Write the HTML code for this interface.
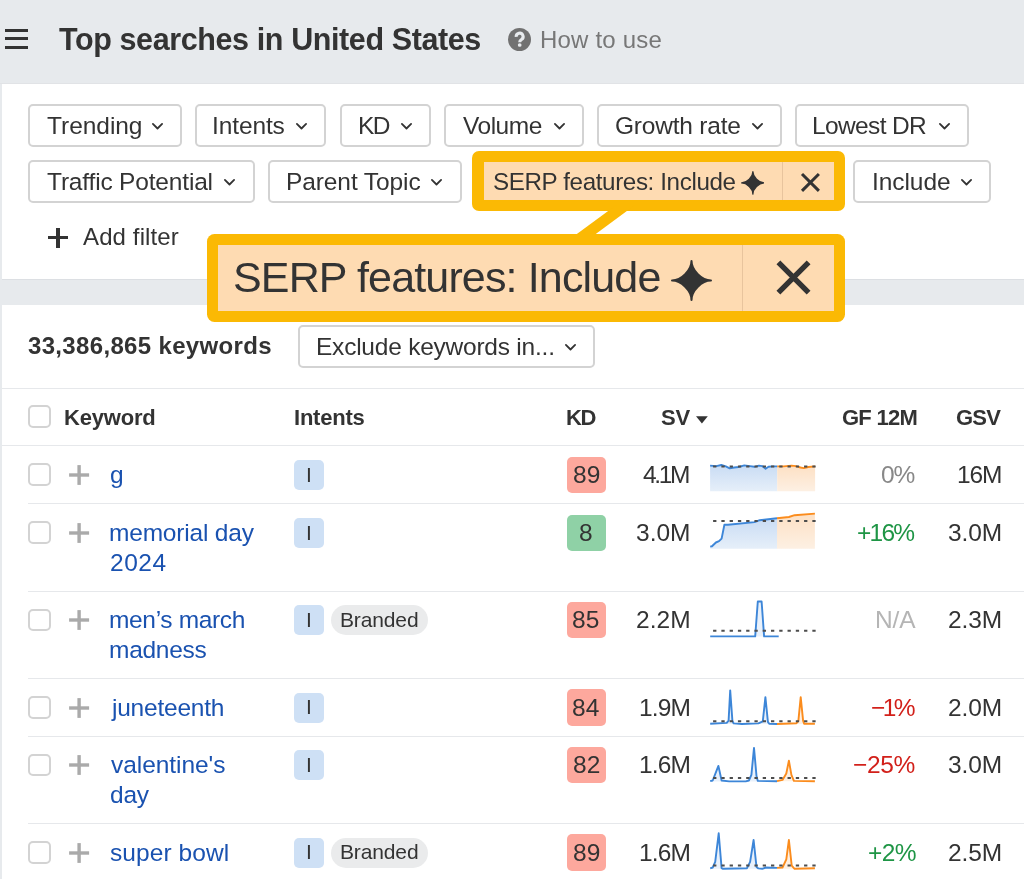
<!DOCTYPE html>
<html><head><meta charset="utf-8"><style>
html,body{margin:0;padding:0;}
body{width:1024px;height:879px;overflow:hidden;position:relative;background:#e7eaed;font-family:"Liberation Sans", sans-serif;}
.t{position:absolute;white-space:nowrap;line-height:1;font-family:"Liberation Sans", sans-serif;will-change:transform;}
.b{position:absolute;}
</style></head><body>
<div class="b" style="left:5.00px;top:29.00px;width:23.00px;height:2.70px;background:#333"></div>
<div class="b" style="left:5.00px;top:37.20px;width:23.00px;height:2.70px;background:#333"></div>
<div class="b" style="left:5.00px;top:45.90px;width:23.00px;height:2.70px;background:#333"></div>
<div class="t" style="left:59.00px;top:24.20px;font-size:30.5px;font-weight:700;color:#333;letter-spacing:-0.393px;">Top searches in United States</div>
<svg class="b" style="left:506px;top:26px" width="27" height="27" viewBox="-13.5 -13.5 27 27"><circle cx="0" cy="0" r="11.5" fill="#717171"/><path d="M-3.3 -2.7 A3.45 3.45 0 1 1 2.0 0.0 Q0.2 1.1 0.2 2.8" stroke="#e7eaed" stroke-width="3.1" fill="none"/><circle cx="0.2" cy="5.5" r="1.85" fill="#e7eaed"/></svg>
<div class="t" style="left:539.60px;top:27.80px;font-size:24px;font-weight:400;color:#777;letter-spacing:0.189px;">How to use</div>
<div class="b" style="left:0.00px;top:83.00px;width:1024.00px;height:1.00px;background:#e1e3e6"></div>
<div class="b" style="left:2.00px;top:84.00px;width:1022.00px;height:195.00px;background:#fff"></div>
<div class="b" style="left:2.00px;top:278.50px;width:1022.00px;height:1.00px;background:#dcdfe3"></div>
<div class="b" style="left:28.00px;top:103.80px;width:153.90px;height:43.00px;border:2px solid #d3d3d3;border-radius:5px;background:#fff;box-sizing:border-box"></div>
<div class="t" style="left:46.70px;top:113.60px;font-size:24.5px;font-weight:400;color:#333;letter-spacing:-0.043px;">Trending</div>
<svg class="b" style="left:151.20px;top:121.60px" width="13" height="8.4" viewBox="-1 -1 13 8.4"><path d="M0.9 0.9 L5.5 5.5 L10.1 0.9" fill="none" stroke="#333" stroke-width="1.8" stroke-linecap="round" stroke-linejoin="round"/></svg>
<div class="b" style="left:195.40px;top:103.80px;width:131.10px;height:43.00px;border:2px solid #d3d3d3;border-radius:5px;background:#fff;box-sizing:border-box"></div>
<div class="t" style="left:212.40px;top:113.60px;font-size:24.5px;font-weight:400;color:#333;letter-spacing:-0.117px;">Intents</div>
<svg class="b" style="left:295.20px;top:121.60px" width="13" height="8.4" viewBox="-1 -1 13 8.4"><path d="M0.9 0.9 L5.5 5.5 L10.1 0.9" fill="none" stroke="#333" stroke-width="1.8" stroke-linecap="round" stroke-linejoin="round"/></svg>
<div class="b" style="left:339.80px;top:103.80px;width:91.30px;height:43.00px;border:2px solid #d3d3d3;border-radius:5px;background:#fff;box-sizing:border-box"></div>
<div class="t" style="left:357.90px;top:113.60px;font-size:24.5px;font-weight:400;color:#333;letter-spacing:-1.700px;">KD</div>
<svg class="b" style="left:400.10px;top:121.60px" width="13" height="8.4" viewBox="-1 -1 13 8.4"><path d="M0.9 0.9 L5.5 5.5 L10.1 0.9" fill="none" stroke="#333" stroke-width="1.8" stroke-linecap="round" stroke-linejoin="round"/></svg>
<div class="b" style="left:444.40px;top:103.80px;width:139.35px;height:43.00px;border:2px solid #d3d3d3;border-radius:5px;background:#fff;box-sizing:border-box"></div>
<div class="t" style="left:463.20px;top:113.60px;font-size:24.5px;font-weight:400;color:#333;letter-spacing:-0.480px;">Volume</div>
<svg class="b" style="left:552.70px;top:121.60px" width="13" height="8.4" viewBox="-1 -1 13 8.4"><path d="M0.9 0.9 L5.5 5.5 L10.1 0.9" fill="none" stroke="#333" stroke-width="1.8" stroke-linecap="round" stroke-linejoin="round"/></svg>
<div class="b" style="left:596.95px;top:103.80px;width:184.65px;height:43.00px;border:2px solid #d3d3d3;border-radius:5px;background:#fff;box-sizing:border-box"></div>
<div class="t" style="left:615.00px;top:113.60px;font-size:24.5px;font-weight:400;color:#333;letter-spacing:-0.200px;">Growth rate</div>
<svg class="b" style="left:750.50px;top:121.60px" width="13" height="8.4" viewBox="-1 -1 13 8.4"><path d="M0.9 0.9 L5.5 5.5 L10.1 0.9" fill="none" stroke="#333" stroke-width="1.8" stroke-linecap="round" stroke-linejoin="round"/></svg>
<div class="b" style="left:795.00px;top:103.80px;width:173.80px;height:43.00px;border:2px solid #d3d3d3;border-radius:5px;background:#fff;box-sizing:border-box"></div>
<div class="t" style="left:812.40px;top:113.60px;font-size:24.5px;font-weight:400;color:#333;letter-spacing:-0.638px;">Lowest DR</div>
<svg class="b" style="left:937.80px;top:121.60px" width="13" height="8.4" viewBox="-1 -1 13 8.4"><path d="M0.9 0.9 L5.5 5.5 L10.1 0.9" fill="none" stroke="#333" stroke-width="1.8" stroke-linecap="round" stroke-linejoin="round"/></svg>
<div class="b" style="left:28.00px;top:159.80px;width:226.80px;height:43.10px;border:2px solid #d3d3d3;border-radius:5px;background:#fff;box-sizing:border-box"></div>
<div class="t" style="left:47.30px;top:169.60px;font-size:24.5px;font-weight:400;color:#333;letter-spacing:-0.175px;">Traffic Potential</div>
<svg class="b" style="left:223.30px;top:177.65px" width="13" height="8.4" viewBox="-1 -1 13 8.4"><path d="M0.9 0.9 L5.5 5.5 L10.1 0.9" fill="none" stroke="#333" stroke-width="1.8" stroke-linecap="round" stroke-linejoin="round"/></svg>
<div class="b" style="left:267.90px;top:159.80px;width:193.70px;height:43.10px;border:2px solid #d3d3d3;border-radius:5px;background:#fff;box-sizing:border-box"></div>
<div class="t" style="left:285.60px;top:169.60px;font-size:24.5px;font-weight:400;color:#333;letter-spacing:-0.100px;">Parent Topic</div>
<svg class="b" style="left:430.30px;top:177.65px" width="13" height="8.4" viewBox="-1 -1 13 8.4"><path d="M0.9 0.9 L5.5 5.5 L10.1 0.9" fill="none" stroke="#333" stroke-width="1.8" stroke-linecap="round" stroke-linejoin="round"/></svg>
<div class="b" style="left:853.40px;top:159.80px;width:137.70px;height:43.10px;border:2px solid #d3d3d3;border-radius:5px;background:#fff;box-sizing:border-box"></div>
<div class="t" style="left:871.50px;top:169.60px;font-size:24.5px;font-weight:400;color:#333;letter-spacing:-0.067px;">Include</div>
<svg class="b" style="left:960.10px;top:177.65px" width="13" height="8.4" viewBox="-1 -1 13 8.4"><path d="M0.9 0.9 L5.5 5.5 L10.1 0.9" fill="none" stroke="#333" stroke-width="1.8" stroke-linecap="round" stroke-linejoin="round"/></svg>
<div class="b" style="left:47.80px;top:235.60px;width:20.00px;height:3.60px;background:#333"></div>
<div class="b" style="left:56.00px;top:227.50px;width:3.60px;height:20.00px;background:#333"></div>
<div class="t" style="left:83.40px;top:225.20px;font-size:24px;font-weight:400;color:#333;letter-spacing:0.122px;">Add filter</div>
<div class="b" style="left:2.00px;top:305.00px;width:1022.00px;height:574.00px;background:#fff"></div>
<div class="t" style="left:28.00px;top:334.20px;font-size:24px;font-weight:700;color:#333;letter-spacing:0.333px;">33,386,865 keywords</div>
<div class="b" style="left:297.80px;top:324.90px;width:297.20px;height:42.90px;border:2px solid #d3d3d3;border-radius:5px;background:#fff;box-sizing:border-box"></div>
<div class="t" style="left:316.20px;top:334.60px;font-size:24.5px;font-weight:400;color:#333;letter-spacing:-0.229px;">Exclude keywords in...</div>
<svg class="b" style="left:564.00px;top:342.60px" width="13" height="8.4" viewBox="-1 -1 13 8.4"><path d="M0.9 0.9 L5.5 5.5 L10.1 0.9" fill="none" stroke="#333" stroke-width="1.8" stroke-linecap="round" stroke-linejoin="round"/></svg>
<div class="b" style="left:2.00px;top:387.60px;width:1022.00px;height:1.20px;background:#e6e8eb"></div>
<div class="b" style="left:2.00px;top:445.30px;width:1022.00px;height:1.20px;background:#e6e8eb"></div>
<div class="b" style="left:28.20px;top:405.10px;width:22.90px;height:22.70px;border:2px solid #d3d3d3;border-radius:5px;box-sizing:border-box;background:#fff"></div>
<div class="t" style="left:63.80px;top:406.70px;font-size:22px;font-weight:700;color:#333;letter-spacing:-0.183px;">Keyword</div>
<div class="t" style="left:294.00px;top:406.70px;font-size:22px;font-weight:700;color:#333;letter-spacing:-0.217px;">Intents</div>
<div class="t" style="left:565.90px;top:406.70px;font-size:22px;font-weight:700;color:#333;letter-spacing:-1.300px;">KD</div>
<div class="t" style="left:660.60px;top:406.70px;font-size:22px;font-weight:700;color:#333;letter-spacing:-0.200px;">SV</div>
<svg class="b" style="left:695.5px;top:415.5px" width="12" height="8" viewBox="0 0 12 8"><path d="M0 0.3 L11.8 0.3 L5.9 7.6 Z" fill="#333"/></svg>
<div class="t" style="left:841.90px;top:406.70px;font-size:22px;font-weight:700;color:#333;letter-spacing:-0.740px;">GF 12M</div>
<div class="t" style="left:956.00px;top:406.70px;font-size:22px;font-weight:700;color:#333;letter-spacing:-0.750px;">GSV</div>
<div class="b" style="left:28.20px;top:463.30px;width:22.90px;height:22.70px;border:2px solid #d3d3d3;border-radius:5px;box-sizing:border-box;background:#fff"></div>
<svg class="b" style="left:66px;top:461.90px" width="26" height="26" viewBox="66 461.90 26 26"><rect x="69.1" y="473.20" width="20" height="3.4" fill="#aaa"/><rect x="77.4" y="465.00" width="3.4" height="19.8" fill="#aaa"/></svg>
<div class="t" style="left:110.40px;top:463.10px;font-size:24.5px;font-weight:400;color:#1a52b0;letter-spacing:0.000px;">g</div>
<div class="b" style="left:294.30px;top:460.00px;width:29.80px;height:30.00px;background:#cee0f5;border-radius:5px"></div>
<div class="t" style="left:306.10px;top:463.60px;font-size:21px;font-weight:400;color:#333;letter-spacing:0.000px;">I</div>
<div class="b" style="left:566.50px;top:456.70px;width:39.50px;height:36.20px;background:#fda89d;border-radius:5px"></div>
<div class="t" style="left:572.70px;top:463.10px;font-size:24.5px;font-weight:400;color:#333;letter-spacing:0.000px;">89</div>
<div class="t" style="left:643.40px;top:463.10px;font-size:24.5px;font-weight:400;color:#333;letter-spacing:-2.367px;">4.1M</div>
<div class="t" style="left:880.50px;top:463.10px;font-size:24.5px;font-weight:400;color:#888;letter-spacing:-1.200px;">0%</div>
<div class="t" style="left:956.50px;top:463.10px;font-size:24.5px;font-weight:400;color:#333;letter-spacing:-1.150px;">16M</div>
<div class="b" style="left:28.00px;top:503.20px;width:996.00px;height:1.20px;background:#e6e8eb"></div>
<div class="b" style="left:28.20px;top:521.20px;width:22.90px;height:22.70px;border:2px solid #d3d3d3;border-radius:5px;box-sizing:border-box;background:#fff"></div>
<svg class="b" style="left:66px;top:519.80px" width="26" height="26" viewBox="66 519.80 26 26"><rect x="69.1" y="531.10" width="20" height="3.4" fill="#aaa"/><rect x="77.4" y="522.90" width="3.4" height="19.8" fill="#aaa"/></svg>
<div class="t" style="left:109.40px;top:521.00px;font-size:24.5px;font-weight:400;color:#1a52b0;letter-spacing:-0.191px;">memorial day</div>
<div class="t" style="left:110.40px;top:550.70px;font-size:24.5px;font-weight:400;color:#1a52b0;letter-spacing:0.500px;">2024</div>
<div class="b" style="left:294.30px;top:517.90px;width:29.80px;height:30.00px;background:#cee0f5;border-radius:5px"></div>
<div class="t" style="left:306.10px;top:521.50px;font-size:21px;font-weight:400;color:#333;letter-spacing:0.000px;">I</div>
<div class="b" style="left:566.50px;top:514.60px;width:39.50px;height:36.20px;background:#8fd1a6;border-radius:5px"></div>
<div class="t" style="left:579.20px;top:521.00px;font-size:24.5px;font-weight:400;color:#333;letter-spacing:0.000px;">8</div>
<div class="t" style="left:636.30px;top:521.00px;font-size:24.5px;font-weight:400;color:#333;letter-spacing:0.000px;">3.0M</div>
<div class="t" style="left:857.20px;top:521.00px;font-size:24.5px;font-weight:400;color:#1e9545;letter-spacing:-1.767px;">+16%</div>
<div class="t" style="left:947.50px;top:521.00px;font-size:24.5px;font-weight:400;color:#333;letter-spacing:-0.100px;">3.0M</div>
<div class="b" style="left:28.00px;top:590.60px;width:996.00px;height:1.20px;background:#e6e8eb"></div>
<div class="b" style="left:28.20px;top:608.60px;width:22.90px;height:22.70px;border:2px solid #d3d3d3;border-radius:5px;box-sizing:border-box;background:#fff"></div>
<svg class="b" style="left:66px;top:607.20px" width="26" height="26" viewBox="66 607.20 26 26"><rect x="69.1" y="618.50" width="20" height="3.4" fill="#aaa"/><rect x="77.4" y="610.30" width="3.4" height="19.8" fill="#aaa"/></svg>
<div class="t" style="left:109.40px;top:608.40px;font-size:24.5px;font-weight:400;color:#1a52b0;letter-spacing:-0.340px;">men’s march</div>
<div class="t" style="left:109.40px;top:638.10px;font-size:24.5px;font-weight:400;color:#1a52b0;letter-spacing:-0.283px;">madness</div>
<div class="b" style="left:294.30px;top:605.30px;width:29.80px;height:30.00px;background:#cee0f5;border-radius:5px"></div>
<div class="t" style="left:306.10px;top:608.90px;font-size:21px;font-weight:400;color:#333;letter-spacing:0.000px;">I</div>
<div class="b" style="left:330.60px;top:605.30px;width:97.40px;height:30.00px;background:#eaebec;border-radius:15px"></div>
<div class="t" style="left:339.80px;top:608.70px;font-size:21px;font-weight:400;color:#333;letter-spacing:-0.133px;">Branded</div>
<div class="b" style="left:566.50px;top:602.00px;width:39.50px;height:36.20px;background:#fda89d;border-radius:5px"></div>
<div class="t" style="left:572.20px;top:608.40px;font-size:24.5px;font-weight:400;color:#333;letter-spacing:0.000px;">85</div>
<div class="t" style="left:636.10px;top:608.40px;font-size:24.5px;font-weight:400;color:#333;letter-spacing:0.067px;">2.2M</div>
<div class="t" style="left:875.40px;top:608.40px;font-size:24.5px;font-weight:400;color:#b5b5b5;letter-spacing:-0.150px;">N/A</div>
<div class="t" style="left:947.50px;top:608.40px;font-size:24.5px;font-weight:400;color:#333;letter-spacing:-0.100px;">2.3M</div>
<div class="b" style="left:28.00px;top:678.00px;width:996.00px;height:1.20px;background:#e6e8eb"></div>
<div class="b" style="left:28.20px;top:696.00px;width:22.90px;height:22.70px;border:2px solid #d3d3d3;border-radius:5px;box-sizing:border-box;background:#fff"></div>
<svg class="b" style="left:66px;top:694.60px" width="26" height="26" viewBox="66 694.60 26 26"><rect x="69.1" y="705.90" width="20" height="3.4" fill="#aaa"/><rect x="77.4" y="697.70" width="3.4" height="19.8" fill="#aaa"/></svg>
<div class="t" style="left:111.50px;top:695.80px;font-size:24.5px;font-weight:400;color:#1a52b0;letter-spacing:-0.222px;">juneteenth</div>
<div class="b" style="left:294.30px;top:692.70px;width:29.80px;height:30.00px;background:#cee0f5;border-radius:5px"></div>
<div class="t" style="left:306.10px;top:696.30px;font-size:21px;font-weight:400;color:#333;letter-spacing:0.000px;">I</div>
<div class="b" style="left:566.50px;top:689.40px;width:39.50px;height:36.20px;background:#fda89d;border-radius:5px"></div>
<div class="t" style="left:572.20px;top:695.80px;font-size:24.5px;font-weight:400;color:#333;letter-spacing:0.000px;">84</div>
<div class="t" style="left:638.90px;top:695.80px;font-size:24.5px;font-weight:400;color:#333;letter-spacing:-0.867px;">1.9M</div>
<div class="t" style="left:871.30px;top:695.80px;font-size:24.5px;font-weight:400;color:#d2201a;letter-spacing:-2.550px;">−1%</div>
<div class="t" style="left:947.50px;top:695.80px;font-size:24.5px;font-weight:400;color:#333;letter-spacing:-0.100px;">2.0M</div>
<div class="b" style="left:28.00px;top:735.50px;width:996.00px;height:1.20px;background:#e6e8eb"></div>
<div class="b" style="left:28.20px;top:753.50px;width:22.90px;height:22.70px;border:2px solid #d3d3d3;border-radius:5px;box-sizing:border-box;background:#fff"></div>
<svg class="b" style="left:66px;top:752.10px" width="26" height="26" viewBox="66 752.10 26 26"><rect x="69.1" y="763.40" width="20" height="3.4" fill="#aaa"/><rect x="77.4" y="755.20" width="3.4" height="19.8" fill="#aaa"/></svg>
<div class="t" style="left:111.40px;top:753.30px;font-size:24.5px;font-weight:400;color:#1a52b0;letter-spacing:-0.060px;">valentine's</div>
<div class="t" style="left:110.40px;top:783.00px;font-size:24.5px;font-weight:400;color:#1a52b0;letter-spacing:-0.250px;">day</div>
<div class="b" style="left:294.30px;top:750.20px;width:29.80px;height:30.00px;background:#cee0f5;border-radius:5px"></div>
<div class="t" style="left:306.10px;top:753.80px;font-size:21px;font-weight:400;color:#333;letter-spacing:0.000px;">I</div>
<div class="b" style="left:566.50px;top:746.90px;width:39.50px;height:36.20px;background:#fda89d;border-radius:5px"></div>
<div class="t" style="left:572.70px;top:753.30px;font-size:24.5px;font-weight:400;color:#333;letter-spacing:0.000px;">82</div>
<div class="t" style="left:638.90px;top:753.30px;font-size:24.5px;font-weight:400;color:#333;letter-spacing:-0.867px;">1.6M</div>
<div class="t" style="left:853.30px;top:753.30px;font-size:24.5px;font-weight:400;color:#d2201a;letter-spacing:-0.367px;">−25%</div>
<div class="t" style="left:947.50px;top:753.30px;font-size:24.5px;font-weight:400;color:#333;letter-spacing:-0.100px;">3.0M</div>
<div class="b" style="left:28.00px;top:823.00px;width:996.00px;height:1.20px;background:#e6e8eb"></div>
<div class="b" style="left:28.20px;top:841.00px;width:22.90px;height:22.70px;border:2px solid #d3d3d3;border-radius:5px;box-sizing:border-box;background:#fff"></div>
<svg class="b" style="left:66px;top:839.60px" width="26" height="26" viewBox="66 839.60 26 26"><rect x="69.1" y="850.90" width="20" height="3.4" fill="#aaa"/><rect x="77.4" y="842.70" width="3.4" height="19.8" fill="#aaa"/></svg>
<div class="t" style="left:110.40px;top:840.80px;font-size:24.5px;font-weight:400;color:#1a52b0;letter-spacing:0.067px;">super bowl</div>
<div class="b" style="left:294.30px;top:837.70px;width:29.80px;height:30.00px;background:#cee0f5;border-radius:5px"></div>
<div class="t" style="left:306.10px;top:841.30px;font-size:21px;font-weight:400;color:#333;letter-spacing:0.000px;">I</div>
<div class="b" style="left:330.60px;top:837.70px;width:97.40px;height:30.00px;background:#eaebec;border-radius:15px"></div>
<div class="t" style="left:339.80px;top:841.10px;font-size:21px;font-weight:400;color:#333;letter-spacing:-0.133px;">Branded</div>
<div class="b" style="left:566.50px;top:834.40px;width:39.50px;height:36.20px;background:#fda89d;border-radius:5px"></div>
<div class="t" style="left:572.70px;top:840.80px;font-size:24.5px;font-weight:400;color:#333;letter-spacing:0.000px;">89</div>
<div class="t" style="left:638.90px;top:840.80px;font-size:24.5px;font-weight:400;color:#333;letter-spacing:-0.867px;">1.6M</div>
<div class="t" style="left:867.50px;top:840.80px;font-size:24.5px;font-weight:400;color:#1e9545;letter-spacing:-0.650px;">+2%</div>
<div class="t" style="left:947.50px;top:840.80px;font-size:24.5px;font-weight:400;color:#333;letter-spacing:-0.100px;">2.5M</div>
<svg class="b" style="left:705px;top:0" width="115" height="879" viewBox="0 0 115 879"><defs><linearGradient id="gb" x1="0" y1="0" x2="0" y2="1"><stop offset="0" stop-color="#c9dcf4"/><stop offset="1" stop-color="#e6eff9"/></linearGradient><linearGradient id="go" x1="0" y1="0" x2="0" y2="1"><stop offset="0" stop-color="#fde0c4"/><stop offset="1" stop-color="#fdf0e3"/></linearGradient></defs><polygon points="5.10,465.60 11.20,466.10 16.30,465.00 20.80,466.40 24.70,468.30 29.20,467.50 33.70,467.00 39.30,465.40 44.90,466.10 49.40,466.80 53.90,465.60 57.30,466.10 60.60,468.70 63.50,466.80 67.40,466.40 72.20,466.40 72.20,491.3 5.10,491.3" fill="url(#gb)"/><polygon points="72.20,466.40 78.60,466.40 86.50,465.60 91.00,466.10 95.50,467.50 98.80,468.10 103.30,467.00 110.10,466.40 110.10,491.3 72.20,491.3" fill="url(#go)"/><polyline points="5.10,465.60 11.20,466.10 16.30,465.00 20.80,466.40 24.70,468.30 29.20,467.50 33.70,467.00 39.30,465.40 44.90,466.10 49.40,466.80 53.90,465.60 57.30,466.10 60.60,468.70 63.50,466.80 67.40,466.40 72.20,466.40" fill="none" stroke="#3d86d8" stroke-width="1.9" stroke-linejoin="round"/><polyline points="72.20,466.40 78.60,466.40 86.50,465.60 91.00,466.10 95.50,467.50 98.80,468.10 103.30,467.00 110.10,466.40" fill="none" stroke="#fb8c1d" stroke-width="1.9" stroke-linejoin="round"/><line x1="8.100000000000023" y1="466.4" x2="111" y2="466.4" stroke="#4d4d4d" stroke-width="2" stroke-dasharray="3.3 4.97"/><polygon points="5.20,546.60 7.00,546.30 10.90,542.50 14.00,541.20 16.60,538.60 19.40,524.70 23.00,524.70 49.60,522.10 54.70,520.20 72.00,518.30 72.00,548.8 5.20,548.8" fill="url(#gb)"/><polygon points="72.00,518.30 83.90,517.00 89.60,515.20 109.90,513.60 109.90,548.8 72.00,548.8" fill="url(#go)"/><polyline points="5.20,546.60 7.00,546.30 10.90,542.50 14.00,541.20 16.60,538.60 19.40,524.70 23.00,524.70 49.60,522.10 54.70,520.20 72.00,518.30" fill="none" stroke="#3d86d8" stroke-width="1.9" stroke-linejoin="round"/><polyline points="72.00,518.30 83.90,517.00 89.60,515.20 109.90,513.60" fill="none" stroke="#fb8c1d" stroke-width="1.9" stroke-linejoin="round"/><line x1="8.100000000000023" y1="520.9" x2="111" y2="520.9" stroke="#4d4d4d" stroke-width="2" stroke-dasharray="3.3 4.97"/><polygon points="5.20,636.40 50.20,636.40 52.80,601.50 56.60,601.50 59.10,636.40 73.70,636.40 73.70,636.4 5.20,636.4" fill="#dbe8f8" opacity="0.6"/><polyline points="5.20,636.40 50.20,636.40 52.80,601.50 56.60,601.50 59.10,636.40 73.70,636.40" fill="none" stroke="#3d86d8" stroke-width="1.9" stroke-linejoin="round"/><line x1="8.100000000000023" y1="630.7" x2="111" y2="630.7" stroke="#4d4d4d" stroke-width="2" stroke-dasharray="3.3 4.97"/><polygon points="5.20,723.80 21.70,722.90 23.60,720.60 25.20,690.40 27.40,720.60 28.60,723.40 36.90,724.00 53.40,723.40 57.80,721.30 60.40,697.10 62.90,721.90 64.20,723.80 72.00,724.00 72.00,724 5.20,724" fill="#dbe8f8" opacity="0.6"/><polygon points="72.00,724.00 91.50,723.20 93.40,720.60 95.70,697.10 98.10,720.60 99.10,723.80 109.90,723.80 109.90,724 72.00,724" fill="#fde6cf" opacity="0.6"/><polyline points="5.20,723.80 21.70,722.90 23.60,720.60 25.20,690.40 27.40,720.60 28.60,723.40 36.90,724.00 53.40,723.40 57.80,721.30 60.40,697.10 62.90,721.90 64.20,723.80 72.00,724.00" fill="none" stroke="#3d86d8" stroke-width="1.9" stroke-linejoin="round"/><polyline points="72.00,724.00 91.50,723.20 93.40,720.60 95.70,697.10 98.10,720.60 99.10,723.80 109.90,723.80" fill="none" stroke="#fb8c1d" stroke-width="1.9" stroke-linejoin="round"/><line x1="8.100000000000023" y1="721.3" x2="111" y2="721.3" stroke="#4d4d4d" stroke-width="2" stroke-dasharray="3.3 4.97"/><polygon points="5.20,781.20 7.70,780.50 13.40,765.90 16.60,780.50 24.20,781.40 40.70,781.40 43.90,780.50 46.40,774.80 49.00,747.90 51.50,776.10 52.80,780.90 72.00,781.20 72.00,781.4 5.20,781.4" fill="#dbe8f8" opacity="0.6"/><polygon points="72.00,781.20 77.50,779.90 81.30,773.50 83.90,760.60 86.40,774.80 88.90,780.90 109.90,781.20 109.90,781.2 72.00,781.2" fill="#fde6cf" opacity="0.6"/><polyline points="5.20,781.20 7.70,780.50 13.40,765.90 16.60,780.50 24.20,781.40 40.70,781.40 43.90,780.50 46.40,774.80 49.00,747.90 51.50,776.10 52.80,780.90 72.00,781.20" fill="none" stroke="#3d86d8" stroke-width="1.9" stroke-linejoin="round"/><polyline points="72.00,781.20 77.50,779.90 81.30,773.50 83.90,760.60 86.40,774.80 88.90,780.90 109.90,781.20" fill="none" stroke="#fb8c1d" stroke-width="1.9" stroke-linejoin="round"/><line x1="8.100000000000023" y1="778" x2="111" y2="778" stroke="#4d4d4d" stroke-width="2" stroke-dasharray="3.3 4.97"/><polygon points="5.20,868.40 7.70,867.50 10.20,861.80 13.70,833.30 16.60,868.20 17.90,868.80 42.00,868.20 45.10,861.80 48.60,840.00 51.50,866.90 53.40,868.40 57.20,868.80 61.00,867.50 72.00,867.90 72.00,868.8 5.20,868.8" fill="#dbe8f8" opacity="0.6"/><polygon points="72.00,867.90 77.50,867.50 81.30,859.30 83.90,840.00 86.70,865.60 89.60,868.80 109.90,868.20 109.90,868.8 72.00,868.8" fill="#fde6cf" opacity="0.6"/><polyline points="5.20,868.40 7.70,867.50 10.20,861.80 13.70,833.30 16.60,868.20 17.90,868.80 42.00,868.20 45.10,861.80 48.60,840.00 51.50,866.90 53.40,868.40 57.20,868.80 61.00,867.50 72.00,867.90" fill="none" stroke="#3d86d8" stroke-width="1.9" stroke-linejoin="round"/><polyline points="72.00,867.90 77.50,867.50 81.30,859.30 83.90,840.00 86.70,865.60 89.60,868.80 109.90,868.20" fill="none" stroke="#fb8c1d" stroke-width="1.9" stroke-linejoin="round"/><line x1="8.100000000000023" y1="865.4" x2="111" y2="865.4" stroke="#4d4d4d" stroke-width="2" stroke-dasharray="3.3 4.97"/></svg>
<div class="b" style="left:472.40px;top:151.20px;width:372.40px;height:60.30px;background:#fbb904;border-radius:7px"></div>
<div class="b" style="left:483.50px;top:162.30px;width:350.20px;height:38.10px;background:#fedbb2"></div>
<div class="t" style="left:492.60px;top:169.50px;font-size:24.2px;font-weight:400;color:#333;letter-spacing:-0.381px;">SERP features: Include</div>
<div class="b" style="left:781.50px;top:162.30px;width:1.00px;height:38.10px;background:#e8c49d"></div>
<svg class="b" style="left:740.70px;top:171.00px" width="23.8" height="23.8" viewBox="-50 -50 100 100"><path d="M0 -47.5 C0 -25 25 0 47.5 0 C25 0 0 25 0 47.5 C0 25 -25 0 -47.5 0 C-25 0 0 -25 0 -47.5 Z" fill="#333" stroke="#333" stroke-width="5" stroke-linejoin="round"/></svg>
<svg class="b" style="left:799.05px;top:170.55px" width="22.90" height="22.90" viewBox="-11.45 -11.45 22.9 22.9"><path d="M-8.45 -8.45 L8.45 8.45 M8.45 -8.45 L-8.45 8.45" stroke="#333" stroke-width="3.0" stroke-linecap="butt"/></svg>
<svg class="b" style="left:0;top:0" width="1024" height="879"><polygon points="616.3,205 635,205 587.6,240 568.7,240" fill="#fbb904"/></svg>
<div class="b" style="left:206.60px;top:233.80px;width:638.20px;height:87.90px;background:#fbb904;border-radius:7.5px"></div>
<div class="b" style="left:217.70px;top:244.90px;width:616.00px;height:65.70px;background:#fedbb2"></div>
<div class="t" style="left:233.10px;top:256.30px;font-size:43px;font-weight:400;color:#333;letter-spacing:-0.852px;">SERP features: Include</div>
<div class="b" style="left:742.20px;top:244.90px;width:1.00px;height:65.70px;background:#e8c49d"></div>
<svg class="b" style="left:671.10px;top:259.60px" width="41" height="41" viewBox="-50 -50 100 100"><path d="M0 -47.5 C0 -25 25 0 47.5 0 C25 0 0 25 0 47.5 C0 25 -25 0 -47.5 0 C-25 0 0 -25 0 -47.5 Z" fill="#333" stroke="#333" stroke-width="5" stroke-linejoin="round"/></svg>
<svg class="b" style="left:773.20px;top:256.50px" width="41.00" height="41.00" viewBox="-20.5 -20.5 41.0 41.0"><path d="M-15.1 -15.1 L15.1 15.1 M15.1 -15.1 L-15.1 15.1" stroke="#333" stroke-width="5.4" stroke-linecap="butt"/></svg>
</body></html>
